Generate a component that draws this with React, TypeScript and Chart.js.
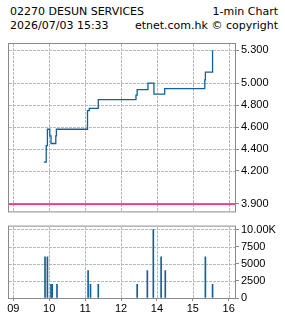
import React, { useEffect, useRef } from "react";
import { Chart, registerables } from "chart.js";

Chart.register(...registerables);

// ---- data ----
const titleLeft1 = "02270 DESUN SERVICES";
const titleRight1 = "1-min Chart";
const titleLeft2 = "2026/07/03 15:33";
const titleRight2 = "etnet.com.hk © copyright";

const hourLabels = ["09", "10", "11", "12", "14", "15", "16"];
const priceTicks = [3.9, 4.2, 4.4, 4.6, 4.8, 5.0, 5.3];
const volumeTicks = [0, 2500, 5000, 7500, 10000];
const prevClose = 3.9;

const priceTimes = [
  "09:51", "09:55", "09:57", "10:01", "10:03", "10:11", "10:12", "11:04", "11:07",
  "11:22", "13:25", "13:27", "13:45", "13:55", "14:13", "15:20", "15:21", "15:33",
];
const priceValues = [
  4.28, 4.43, 4.58, 4.52, 4.45, 4.52, 4.58, 4.75, 4.77,
  4.85, 4.89, 4.94, 5.0, 4.9, 4.95, 5.03, 5.1, 5.3,
];

const volumeTimes = [
  "09:53", "09:57", "10:03", "10:05", "10:13", "11:05", "11:09", "11:22",
  "13:27", "13:44", "13:54", "14:07", "14:14", "15:21", "15:33",
];
const volumeValues = [
  6000, 6000, 2000, 2000, 2000, 4000, 2000, 2000,
  2000, 4000, 10000, 6000, 4000, 6000, 2000,
];

// trading-time index: 09:00 -> 0, 12:00/13:00 -> 3, 16:00 -> 6
function toIdx(t: string): number {
  const [h, m] = t.split(":").map(Number);
  const v = h + m / 60;
  return v >= 13 ? v - 10 : v - 9;
}

const X_MIN = -0.12;
const X_MAX = 6.175;
const LINE_COLOR = "#12609a";
const GRID_COLOR = "#b8b8b8";
const BOX_COLOR = "#8a8a8a";
const AXIS_FONT = { family: "'Liberation Sans', Arial, sans-serif", size: 11 };

// dense dashed grid lines (3px on, 1px off) at the chart's own scale ticks
function drawGridLines(chart: any) {
  const ctx = chart.ctx;
  const area = chart.chartArea;
  const xs = chart.scales.x;
  const ys = chart.scales.y;
  const left = Math.round(area.left);
  const right = Math.round(area.right);
  const top = Math.round(area.top);
  const bottom = Math.round(area.bottom);
  ctx.save();
  ctx.fillStyle = GRID_COLOR;
  for (const t of xs.ticks) {
    const px = Math.round(xs.getPixelForValue(t.value));
    for (let y = top; y < bottom; y += 4) {
      ctx.fillRect(px, y, 1, Math.min(3, bottom - y));
    }
  }
  for (const t of ys.ticks) {
    const py = Math.round(ys.getPixelForValue(t.value));
    for (let x = left; x < right; x += 4) {
      ctx.fillRect(x, py, Math.min(3, right - x), 1);
    }
  }
  ctx.restore();
}

const gridPlugin = {
  id: "dashGrid",
  beforeDatasetsDraw(chart: any) {
    drawGridLines(chart);
  },
  afterDraw(chart: any) {
    const { ctx, chartArea } = chart;
    ctx.save();
    ctx.strokeStyle = BOX_COLOR;
    ctx.lineWidth = 1;
    ctx.strokeRect(
      chartArea.left - 0.5,
      chartArea.top - 0.5,
      chartArea.right - chartArea.left + 1,
      chartArea.bottom - chartArea.top + 1
    );
    ctx.restore();
  },
};

function xScale(showLabels: boolean) {
  return {
    type: "linear" as const,
    min: X_MIN,
    max: X_MAX,
    offset: false,
    afterBuildTicks(scale: any) {
      scale.ticks = hourLabels.map((_, i) => ({ value: i }));
    },
    afterFit(scale: any) {
      scale.height = showLabels ? 20 : 0;
    },
    grid: {
      offset: false,
      drawOnChartArea: false,
      drawTicks: showLabels,
      tickLength: 3,
      tickColor: BOX_COLOR,
      color: BOX_COLOR,
    },
    border: { display: false },
    ticks: {
      display: showLabels,
      autoSkip: false,
      maxRotation: 0,
      padding: 1,
      color: "#000",
      font: AXIS_FONT,
      callback: (v: any) => hourLabels[Number(v)] ?? "",
    },
  };
}

function yScale(min: number, max: number, ticks: number[], fmt: (v: number) => string) {
  return {
    type: "linear" as const,
    position: "right" as const,
    min,
    max,
    afterBuildTicks(scale: any) {
      scale.ticks = ticks.map((v) => ({ value: v }));
    },
    afterFit(scale: any) {
      scale.width = 50;
    },
    grid: {
      drawOnChartArea: false,
      tickLength: 4,
      tickColor: BOX_COLOR,
      color: BOX_COLOR,
    },
    border: { display: false },
    ticks: {
      autoSkip: false,
      padding: 2,
      color: "#000",
      font: AXIS_FONT,
      callback: (v: any) => fmt(Number(v)),
    },
  };
}

export default function App() {
  const priceRef = useRef<HTMLCanvasElement>(null);
  const volRef = useRef<HTMLCanvasElement>(null);

  useEffect(() => {
    const priceData = priceTimes.map((t, i) => ({ x: toIdx(t), y: priceValues[i] }));
    const volData = volumeTimes.map((t, i) => ({ x: toIdx(t), y: volumeValues[i] }));

    const priceChart = new Chart(priceRef.current!, {
      type: "line",
      data: {
        datasets: [
          {
            data: [
              { x: X_MIN, y: prevClose },
              { x: X_MAX, y: prevClose },
            ],
            borderColor: "#ff0a7c",
            borderWidth: 1.5,
            pointRadius: 0,
          },
          {
            data: priceData,
            borderColor: LINE_COLOR,
            borderWidth: 1.3,
            pointRadius: 0,
            stepped: true,
          },
        ],
      },
      options: {
        animation: false,
        responsive: false,
        maintainAspectRatio: false,
        layout: { padding: { left: 9, top: 44, right: 0, bottom: 4 } },
        plugins: { legend: { display: false }, tooltip: { enabled: false } },
        scales: {
          x: xScale(false) as any,
          y: yScale(3.832, 5.356, priceTicks, (v) => v.toFixed(3)) as any,
        },
      },
      plugins: [gridPlugin],
    });

    const volChart = new Chart(volRef.current!, {
      type: "bar",
      data: {
        datasets: [
          {
            data: volData as any,
            backgroundColor: LINE_COLOR,
            barThickness: 1,
          },
        ],
      },
      options: {
        animation: false,
        responsive: false,
        maintainAspectRatio: false,
        layout: { padding: { left: 9, top: 4, right: 0, bottom: 0 } },
        plugins: { legend: { display: false }, tooltip: { enabled: false } },
        scales: {
          x: xScale(true) as any,
          y: yScale(0, 10420, volumeTicks, (v) => (v >= 10000 ? (v / 1000).toFixed(2) + "K" : String(v))) as any,
        },
      },
      plugins: [gridPlugin],
    });

    return () => {
      priceChart.destroy();
      volChart.destroy();
    };
  }, []);

  const textStyle: React.CSSProperties = {
    position: "absolute",
    fontFamily: "'DejaVu Sans', sans-serif",
    fontSize: 11,
    lineHeight: "13px",
    color: "#000",
    whiteSpace: "nowrap",
  };

  return (
    <div style={{ position: "absolute", left: 0, top: 0, width: 285, height: 318, background: "#fff" }}>
      <div style={{ ...textStyle, left: 10, top: 5 }}>{titleLeft1}</div>
      <div style={{ ...textStyle, right: 7, top: 5 }}>{titleRight1}</div>
      <div style={{ ...textStyle, left: 10, top: 19 }}>{titleLeft2}</div>
      <div style={{ ...textStyle, right: 7, top: 19 }}>{titleRight2}</div>
      <canvas ref={priceRef} width={285} height={220} style={{ position: "absolute", left: 0, top: 0 }} />
      <canvas ref={volRef} width={285} height={100} style={{ position: "absolute", left: 0, top: 218 }} />
    </div>
  );
}
